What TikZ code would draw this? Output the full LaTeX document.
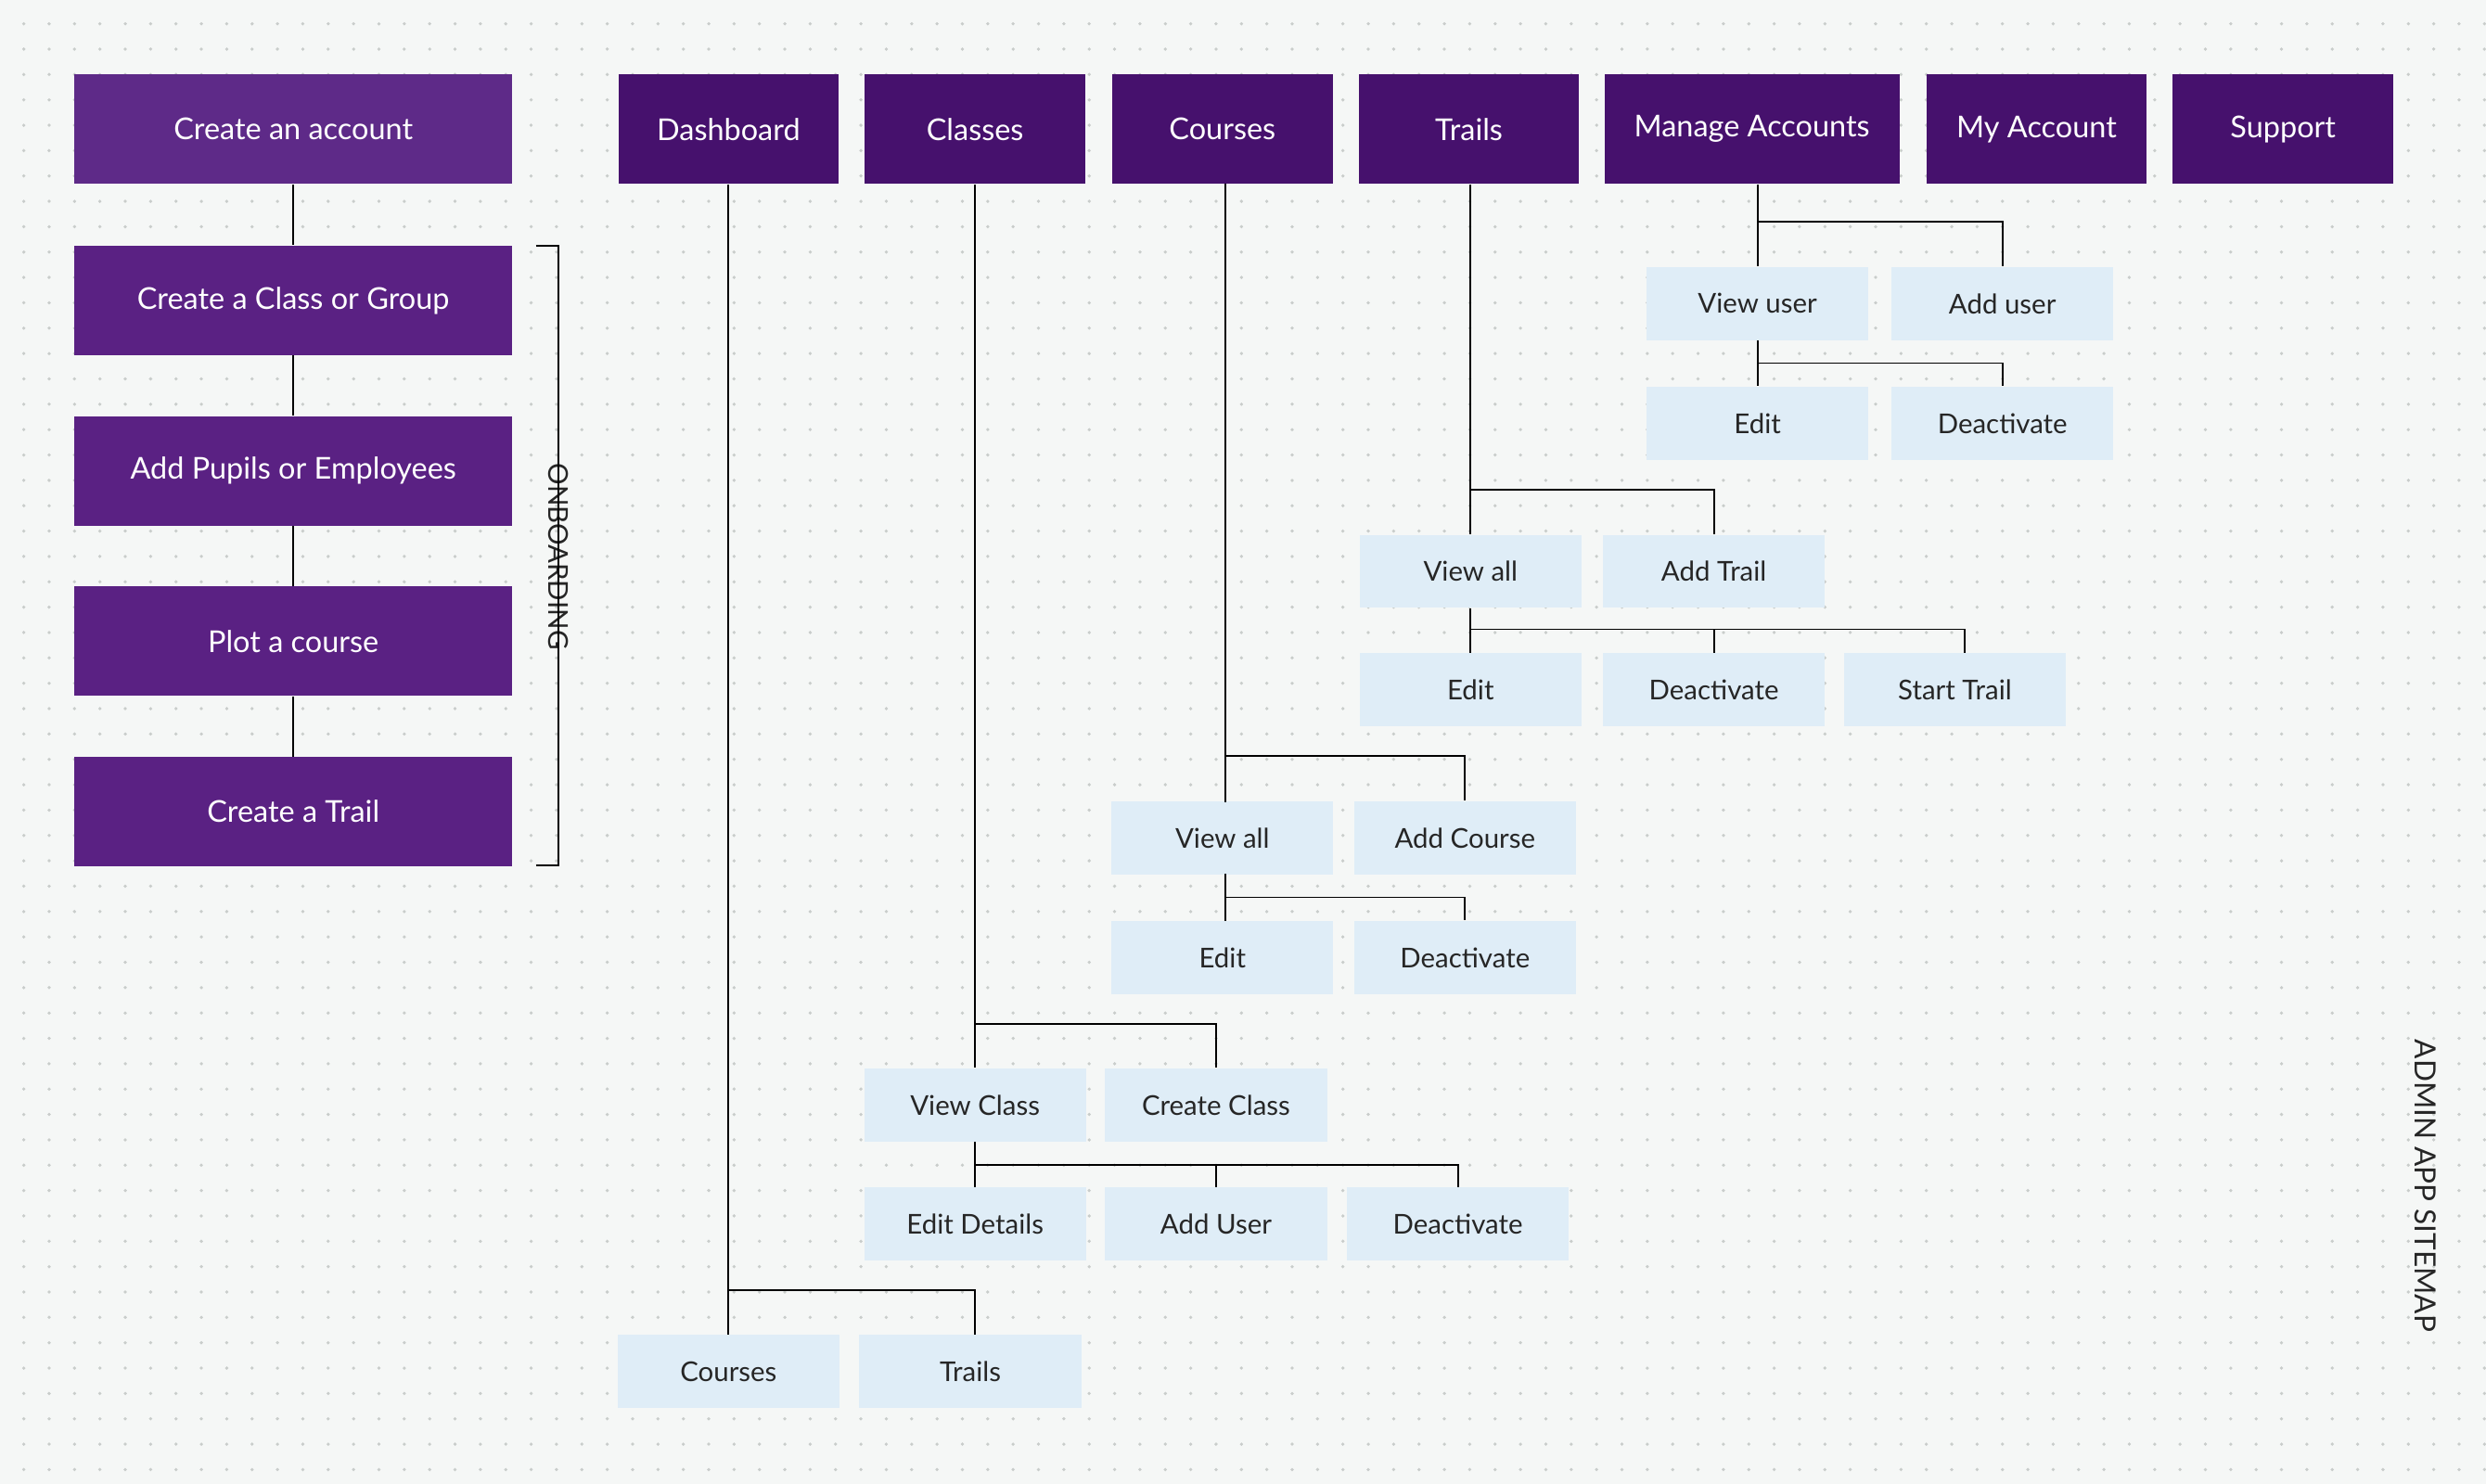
\documentclass[tikz,border=0pt]{standalone}
\usepackage{fontspec}
\setmainfont{Lato}
\begin{document}
\definecolor{bgc}{HTML}{F5F7F6}
\definecolor{dotc}{HTML}{C9CDCB}
\definecolor{navc}{HTML}{46116D}
\definecolor{onbc}{HTML}{5A2183}
\definecolor{onbt}{HTML}{5E2A88}
\definecolor{lbc}{HTML}{DFEDF7}
\begin{tikzpicture}[x=0.02cm,y=-0.02cm,
  nav/.style={fill=navc,text=white,minimum height=1.38cm,minimum width=2.78cm,inner sep=0,font=\fontsize{10.8}{12}\selectfont},
  onb/.style={fill=onbc,text=white,minimum height=1.38cm,minimum width=5.52cm,inner sep=0,font=\fontsize{10.8}{12}\selectfont},
  lb/.style={fill=lbc,text=black!85,minimum height=0.92cm,minimum width=2.8cm,inner sep=0,font=\fontsize{9.8}{12}\selectfont},
  ln/.style={draw=black,line width=0.6pt}]
\fill[bgc] (0,0) rectangle (1568,936);
\useasboundingbox (0,0) rectangle (1568,936);
\foreach \i in {0,...,97}{\foreach \j in {0,...,57}{\fill[dotc] (15+16*\i,15+16*\j) circle (0.022cm);}}
% onboarding
\node[onb,fill=onbt] (o1) at (185,81.5) {Create an account};
\node[onb] (o2) at (185,189.5) {Create a Class or Group};
\node[onb] (o3) at (185,297) {Add Pupils or Employees};
\node[onb] (o4) at (185,404.5) {Plot a course};
\node[onb] (o5) at (185,512) {Create a Trail};
\draw[ln] (o1)--(o2) (o2)--(o3) (o3)--(o4) (o4)--(o5);
\coordinate (bt) at (338,155); \coordinate (bb) at (338,546);
\node[rotate=-90,font=\fontsize{9.8}{12}\selectfont,text=black!85] (onbl) at (352,351) {ONBOARDING};
\draw[ln] (bt) -- (bt-|onbl) -- (onbl.east);
\draw[ln] (bb) -- (bb-|onbl) -- (onbl.west);
\node[rotate=-90,font=\fontsize{10.5}{12}\selectfont,text=black!85] (adm) at (1530,748) {ADMIN APP SITEMAP};
% nav
\node[nav] (dash) at (459.5,81.5) {Dashboard};
\node[nav] (cls) at (615,81.5) {Classes};
\node[nav] (crs) at (771,81.5) {Courses};
\node[nav] (trl) at (926.5,81.5) {Trails};
\node[nav,minimum width=3.72cm] (ma) at (1105,81.5) {Manage Accounts};
\node[nav] (myacc) at (1284.5,81.5) {My Account};
\node[nav] (sup) at (1440,81.5) {Support};
% manage accounts
\node[lb] (vu) at (1108.5,191.5) {View user};
\node[lb] (au) at (1263,191.5) {Add user};
\node[lb] (mae) at (1108.5,267) {Edit};
\node[lb] (mad) at (1263,267) {Deactivate};
\draw[ln] (vu.north|-ma.south) -- (vu.north);
\draw[ln] (1108.5,140) -| (au.north);
\draw[ln] (vu.south) -- (mae.north);
\draw[ln] (1108.5,229) -| (mad.north);
% trails
\node[lb] (tva) at (927.5,360.5) {View all};
\node[lb] (tat) at (1081,360.5) {Add Trail};
\node[lb] (te) at (927.5,435) {Edit};
\node[lb] (td) at (1081,435) {Deactivate};
\node[lb] (ts) at (1233,435) {Start Trail};
\draw[ln] (tva.north|-trl.south) -- (tva.north);
\draw[ln] (927.5,309) -| (tat.north);
\draw[ln] (tva.south) -- (te.north);
\draw[ln] (927.5,397) -| (td.north);
\draw[ln] (927.5,397) -| (ts.north-|1239,0);
% courses
\node[lb] (cva) at (771,528.5) {View all};
\node[lb] (cac) at (924,528.5) {Add Course};
\node[lb] (ce) at (771,604) {Edit};
\node[lb] (cd) at (924,604) {Deactivate};
\draw[ln] (773,116) -- (773,506);
\draw[ln] (773,477) -| (cac.north);
\draw[ln] (773,551) -- (773,581);
\draw[ln] (773,566) -| (cd.north);
% classes
\node[lb] (vc) at (615,697) {View Class};
\node[lb] (cc) at (767,697) {Create Class};
\node[lb] (ed) at (615,772) {Edit Details};
\node[lb] (adu) at (767,772) {Add User};
\node[lb] (cld) at (919.5,772) {Deactivate};
\draw[ln] (cls.south) -- (vc.north);
\draw[ln] (615,646) -| (cc.north);
\draw[ln] (vc.south) -- (ed.north);
\draw[ln] (615,735) -| (adu.north);
\draw[ln] (615,735) -| (cld.north);
% dashboard
\node[lb] (dc) at (459.5,865) {Courses};
\node[lb] (dt) at (612,865) {Trails};
\draw[ln] (dash.south) -- (dc.north);
\draw[ln] (459.5,814) -| (615,842);
\end{tikzpicture}
\end{document}
